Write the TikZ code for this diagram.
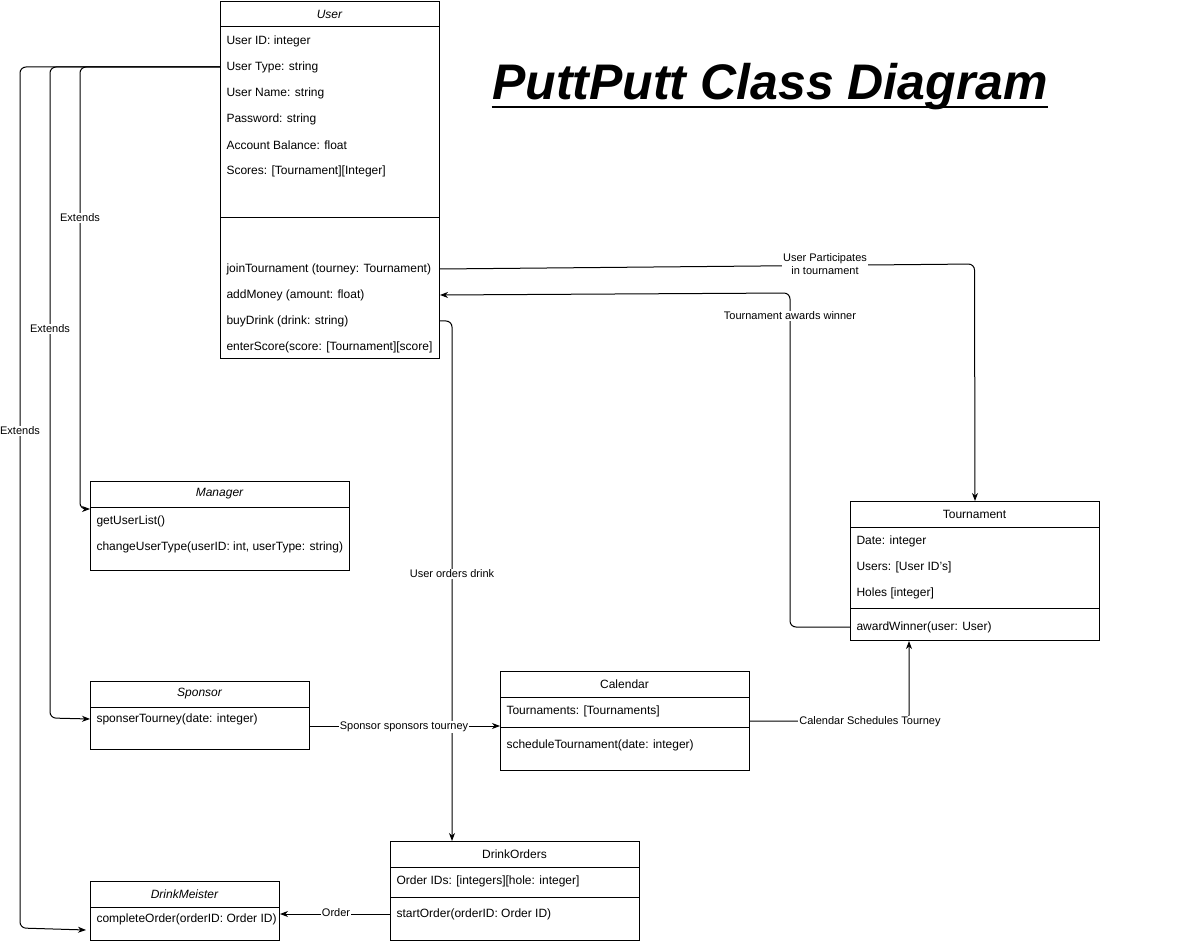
\documentclass[tikz,border=0pt]{standalone}
\usepackage{fontspec}
\setmainfont{Liberation Sans}
\usetikzlibrary{arrows.meta, positioning, calc}

\begin{document}
\begin{tikzpicture}[x=1pt, y=-1pt, line width=1pt]
	\tikzstyle{classbox}=[draw, anchor=north west, inner sep=0pt]
	\tikzstyle{row}=[anchor=west, inner sep=0pt, yshift=-1pt, font=\fontsize{12}{14}\selectfont]
	\tikzstyle{head}=[inner sep=0pt, font=\fontsize{12}{14}\selectfont]
	\tikzstyle{lbl}=[fill=white, inner sep=1pt, align=center, font=\fontsize{11}{13}\selectfont]
	\tikzstyle{conn}=[rounded corners=6pt]
	\tikzstyle{tip}=[-{Stealth[length=8pt, width=6pt, inset=2.5pt]}]

	\useasboundingbox (0,0) rectangle (1194,941);

	% Title
	\node at (770,99.5) [anchor=base, inner sep=0pt, font=\fontsize{50}{56}\selectfont\bfseries\itshape] (title) {PuttPutt Class Diagram};
	\draw [line width=2.5pt] ([yshift=-7.5pt]title.base west) -- ([yshift=-7.5pt]title.base east);

	% User
	\node at (220,1) [classbox, minimum width=219pt, minimum height=357pt] (user) {};
	\node at (329.5,14) [head] {\itshape User};
	\draw ([yshift=-26pt]user.north west) -- ([yshift=-26pt]user.north east);
	\draw ([yshift=-217pt]user.north west) -- ([yshift=-217pt]user.north east);
	\foreach \t [count=\i] in {{User ID: integer}, {User Type: string}, {User Name: string}, {Password: string}, {Account Balance: float}, {Scores: [Tournament][Integer]}}
		\node at (226, 14+26*\i) [row] (user_a\i) {\t};
	\foreach \t [count=\i] in {{joinTournament (tourney: Tournament)}, {addMoney (amount: float)}, {buyDrink (drink: string)}, {enterScore(score: [Tournament][score]}}
		\node at (226, 242+26*\i) [row] (user_m\i) {\t};

	% Manager
	\node at (90,481) [classbox, minimum width=259pt, minimum height=89pt] (manager) {};
	\node at (219.5,494) [head] {\itshape Manager};
	\draw ([yshift=-26pt]manager.north west) -- ([yshift=-26pt]manager.north east);
	\foreach \t [count=\i] in {{getUserList()}, {changeUserType(userID: int, userType: string)}}
		\node at (96, 494+26*\i) [row] (man_m\i) {\t};

	% Sponsor
	\node at (90,681) [classbox, minimum width=219pt, minimum height=68pt] (sponsor) {};
	\node at (199.5,694) [head] {\itshape Sponsor};
	\draw ([yshift=-26pt]sponsor.north west) -- ([yshift=-26pt]sponsor.north east);
	\node at (96,718) [row] (sp_m1) {sponserTourney(date: integer)};

	% Calendar
	\node at (500,671) [classbox, minimum width=249pt, minimum height=99pt] (calendar) {};
	\node at (624.5,684) [head] {Calendar};
	\draw ([yshift=-26pt]calendar.north west) -- ([yshift=-26pt]calendar.north east);
	\draw ([yshift=-56pt]calendar.north west) -- ([yshift=-56pt]calendar.north east);
	\node at (506,710) [row] (cal_a1) {Tournaments: [Tournaments]};
	\node at (506,744) [row] (cal_m1) {scheduleTournament(date: integer)};

	% Tournament
	\node at (850,501) [classbox, minimum width=249pt, minimum height=139pt] (tourney) {};
	\node at (974.5,514) [head] {Tournament};
	\draw ([yshift=-26pt]tourney.north west) -- ([yshift=-26pt]tourney.north east);
	\draw ([yshift=-107pt]tourney.north west) -- ([yshift=-107pt]tourney.north east);
	\foreach \t [count=\i] in {{Date: integer}, {Users: [User ID's]}, {Holes [integer]}}
		\node at (856, 514+26*\i) [row] (tr_a\i) {\t};
	\node at (856,626) [row] (tr_m1) {awardWinner(user: User)};

	% DrinkOrders
	\node at (390,841) [classbox, minimum width=249pt, minimum height=99pt] (drinkorders) {};
	\node at (514.5,854) [head] {DrinkOrders};
	\draw ([yshift=-26pt]drinkorders.north west) -- ([yshift=-26pt]drinkorders.north east);
	\draw ([yshift=-56pt]drinkorders.north west) -- ([yshift=-56pt]drinkorders.north east);
	\node at (396,880) [row] (do_a1) {Order IDs: [integers][hole: integer]};
	\node at (396,913) [row] (do_m1) {startOrder(orderID: Order ID)};

	% DrinkMeister
	\node at (90,881) [classbox, minimum width=189pt, minimum height=59pt] (dm) {};
	\node at (184.5,894) [head] {\itshape DrinkMeister};
	\draw ([yshift=-26pt]dm.north west) -- ([yshift=-26pt]dm.north east);
	\begin{scope}
		\clip (dm.north west) rectangle ([xshift=-2.5pt]dm.south east);
		\node at (96,918) [row] (dm_m1) {completeOrder(orderID: Order ID)};
	\end{scope}

	% Extends
	\draw [conn, tip] (user.west |- user_a2) -| (80,509) -- ([yshift=-28pt]manager.north west);
	\draw [conn, tip] (user.west |- user_a2) -| (50,718) -- (sponsor.west |- sp_m1);
	\draw [conn, tip] (user.west |- user_a2) -| (20,928) -- ([xshift=-4pt, yshift=-49pt]dm.north west);
	\node at (80,218) [lbl] {Extends};
	\node at (50,329) [lbl] {Extends};
	\node at (20,431) [lbl] {Extends};

	% User -> Tournament
	\draw [conn, tip] (user.east |- user_m1) -- (974.5,264) -- (tourney.north);
	\node at (825,264.5) [lbl] {User Participates\\in tournament};

	% Tournament -> User
	\draw [conn, tip] (tourney.west |- tr_m1) -| (790,293) -- (user.east |- user_m2);
	\node at (790,316) [lbl] {Tournament awards winner};

	% User -> DrinkOrders
	\draw [conn, tip] (user.east |- user_m3) -| ([xshift=62pt]drinkorders.north west);
	\node at (452,574) [lbl] {User orders drink};

	% Sponsor -> Calendar
	\draw [tip] ([yshift=-45pt]sponsor.north east) -- ([yshift=-55pt]calendar.north west);
	\node at (404,727) [lbl] {Sponsor sponsors tourney};

	% Calendar -> Tournament
	\draw [conn, tip] (calendar.east) -| ([xshift=59pt]tourney.south west);
	\node at (870,722) [lbl] {Calendar Schedules Tourney};

	% DrinkOrders -> DrinkMeister
	\draw [tip] (drinkorders.west |- do_m1) -- (dm.east |- do_m1);
	\node at (336,913) [lbl] {Order};
\end{tikzpicture}
\end{document}
